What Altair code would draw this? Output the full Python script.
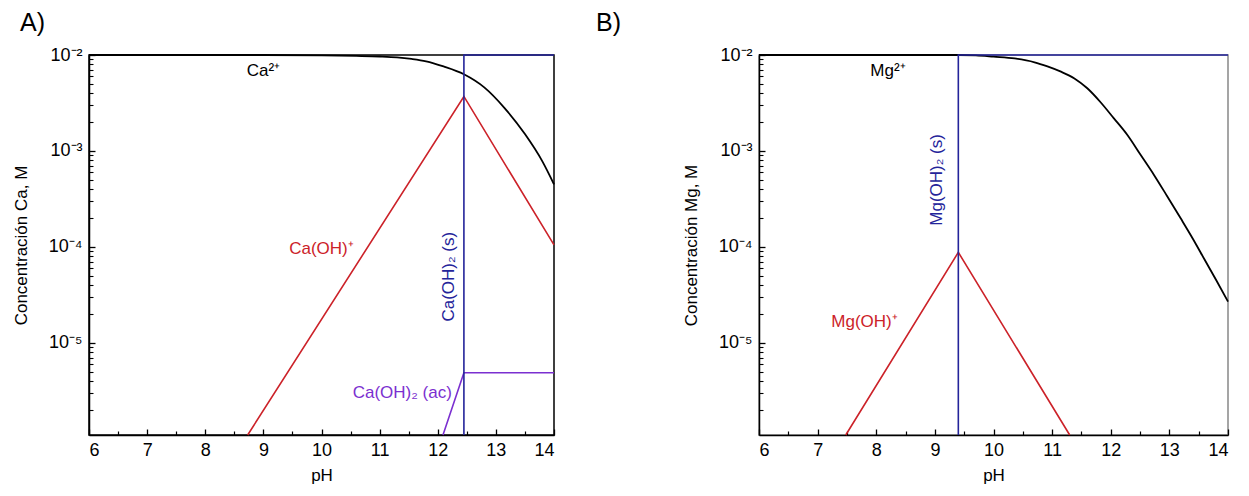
import altair as alt
import pandas as pd

FONT = "Liberation Sans"

# ---------------- Panel A (Ca) ----------------
ca_free_ph = [6, 9, 10, 10.6, 11.0, 11.3, 11.55, 11.8, 12.1, 12.45, 12.8, 13.15, 13.5, 13.8, 14]
ca_free_c = [0.01, 0.01, 0.0099, 0.00978, 0.00965, 0.00945, 0.0091, 0.0086, 0.0076, 0.0063,
             0.0046, 0.0028, 0.0015, 0.00078, 0.00045]
ca_oh_ph = [8.73, 12.45, 14]
ca_oh_c = [1.1e-6, 3.7e-3, 1.05e-4]
ca_aq_ph = [12.09, 12.45, 14]
ca_aq_c = [1.1e-6, 4.9e-6, 4.9e-6]
ca_s_ph = [12.45, 12.45, 14]
ca_s_c = [1.1e-6, 1e-2, 1e-2]

ca_lbl_text = ["Ca²⁺", "Ca(OH)⁺", "Ca(OH)₂ (ac)"]
ca_lbl_ph = [9.0, 10.0, 11.39]
ca_lbl_c = [6.8e-3, 9.5e-5, 3.0e-6]
ca_lbl_sp = ["free", "oh", "aq"]
ca_rot_text = ["Ca(OH)₂ (s)"]
ca_rot_ph = [12.2]
ca_rot_c = [4.9e-5]

# ---------------- Panel B (Mg) ----------------
mg_free_ph = [6, 9.4, 9.7, 10.0, 10.36, 10.7, 10.92, 11.15, 11.38, 11.6, 11.83, 12.05,
              12.29, 12.5, 12.74, 12.96, 13.19, 13.4, 13.6, 13.8, 14]
mg_free_c = [0.01, 0.01, 0.0099, 0.0096, 0.0092, 0.0084, 0.0076, 0.0067, 0.0057, 0.0045,
             0.0032, 0.0022, 0.00145, 0.00093, 0.00056, 0.00034, 0.0002, 0.000122,
             7.4e-5, 4.5e-5, 2.7e-5]
mg_oh_ph = [7.48, 9.4, 11.3]
mg_oh_c = [1.1e-6, 8.8e-5, 1.1e-6]
mg_s_ph = [9.4, 9.4, 14]
mg_s_c = [1.1e-6, 1e-2, 1e-2]

mg_lbl_text = ["Mg²⁺", "Mg(OH)⁺"]
mg_lbl_ph = [8.2, 7.8]
mg_lbl_c = [6.8e-3, 1.65e-5]
mg_lbl_sp = ["free", "oh"]
mg_rot_text = ["Mg(OH)₂ (s)"]
mg_rot_ph = [9.03]
mg_rot_c = [5.0e-4]

species = ["free", "oh", "aq", "s"]
colors = ["#000000", "#cc2229", "#7b2fd0", "#24249a"]

x_major = [6, 7, 8, 9, 10, 11, 12, 13, 14]
x_minor = [6.5, 7.5, 8.5, 9.5, 10.5, 11.5, 12.5, 13.5]
y_major = [1e-5, 1e-4, 1e-3, 1e-2]
y_minor = [m * 10.0 ** e for e in [-6, -5, -4, -3] for m in range(2, 10)
           if 1.1e-6 <= m * 10.0 ** e < 1e-2]


def lines_df(series):
    rows = []
    for sp, phs, cs in series:
        for i, (p, c) in enumerate(zip(phs, cs)):
            rows.append({"ph": p, "c": c, "sp": sp, "i": i})
    return pd.DataFrame(rows)


def panel(curve, series, lbl, rot, ytitle, title, title_dx, right_stroke, width):
    xs = alt.Scale(domain=[6, 14], nice=False, zero=False)
    ys = alt.Scale(type="log", domain=[1.1e-6, 1e-2], nice=False)
    cs = alt.Scale(domain=species, range=colors)

    ax_x_lab = alt.Axis(values=x_major, orient="bottom", ticks=False, grid=False,
                        domainColor="black", domainWidth=1.5, labelFontSize=18,
                        labelFont=FONT, labelColor="black", labelPadding=6, format="d",
                        title="pH", titleFont=FONT, titleFontSize=17,
                        titleFontWeight="normal", titleColor="black", titlePadding=8)
    ax_x_maj = alt.Axis(values=x_major, orient="bottom", labels=False, domain=False,
                        grid=False, tickSize=6, tickWidth=1.3, tickColor="black",
                        offset=-6, title=None)
    ax_x_min = alt.Axis(values=x_minor, orient="bottom", labels=False, domain=False,
                        grid=False, tickSize=4, tickWidth=1.2, tickColor="black",
                        offset=-4, title=None)
    lab_expr = ("datum.value >= 0.0099 ? '10⁻²' : datum.value >= 0.00099 ? '10⁻³' : "
                "datum.value >= 0.000099 ? '10⁻⁴' : '10⁻⁵'")
    ax_y_lab = alt.Axis(values=y_major, orient="left", ticks=False, grid=False,
                        domainColor="black", domainWidth=1.5, labelFontSize=18,
                        labelFont=FONT, labelColor="black", labelPadding=7,
                        labelExpr=lab_expr, title=ytitle, titleFont=FONT,
                        titleFontSize=17, titleFontWeight="normal", titleColor="black",
                        titlePadding=18)
    ax_y_maj = alt.Axis(values=y_major, orient="left", labels=False, domain=False,
                        grid=False, tickSize=6, tickWidth=1.3, tickColor="black",
                        offset=-6, title=None)
    ax_y_min = alt.Axis(values=y_minor, orient="left", labels=False, domain=False,
                        grid=False, tickSize=4, tickWidth=1.1, tickColor="black",
                        offset=-4, title=None)

    ldf = lines_df(series)
    lines = alt.Chart(ldf).mark_line(strokeWidth=1.6).encode(
        x=alt.X("ph:Q", scale=xs, axis=ax_x_lab),
        y=alt.Y("c:Q", scale=ys, axis=ax_y_lab),
        color=alt.Color("sp:N", scale=cs, legend=None),
        detail="sp:N",
        order="i:Q",
    )
    cdf = lines_df([curve])
    smooth = alt.Chart(cdf).mark_line(strokeWidth=1.8, interpolate="monotone").encode(
        x=alt.X("ph:Q", scale=xs, axis=None),
        y=alt.Y("c:Q", scale=ys, axis=None),
        color=alt.Color("sp:N", scale=cs, legend=None),
        order="i:Q",
    )
    tdf = pd.DataFrame({"ph": lbl[1], "c": lbl[2], "t": lbl[0], "sp": lbl[3]})
    texts = alt.Chart(tdf).mark_text(font=FONT, fontSize=17, align="center",
                                     baseline="middle").encode(
        x=alt.X("ph:Q", scale=xs, axis=ax_x_maj),
        y=alt.Y("c:Q", scale=ys, axis=ax_y_maj),
        text="t:N",
        color=alt.Color("sp:N", scale=cs, legend=None),
    )
    rdf = pd.DataFrame({"ph": rot[1], "c": rot[2], "t": rot[0], "sp": ["s"] * len(rot[0])})
    rtext = alt.Chart(rdf).mark_text(font=FONT, fontSize=17, align="center",
                                     baseline="middle", angle=270).encode(
        x=alt.X("ph:Q", scale=xs, axis=ax_x_min),
        y=alt.Y("c:Q", scale=ys, axis=ax_y_min),
        text="t:N",
        color=alt.Color("sp:N", scale=cs, legend=None),
    )
    return alt.layer(smooth, lines, texts, rtext).resolve_axis(
        x="independent", y="independent"
    ).properties(
        width=width, height=380,
        title=alt.TitleParams(title, anchor="start", frame="group", dx=title_dx,
                              fontSize=25, fontWeight="normal", font=FONT,
                              color="black", offset=10),
        view=alt.ViewBackground(stroke=right_stroke, strokeWidth=1.5),
    )


panel_a = panel(
    ("free", ca_free_ph, ca_free_c),
    [("oh", ca_oh_ph, ca_oh_c), ("aq", ca_aq_ph, ca_aq_c), ("s", ca_s_ph, ca_s_c)],
    (ca_lbl_text, ca_lbl_ph, ca_lbl_c, ca_lbl_sp),
    (ca_rot_text, ca_rot_ph, ca_rot_c),
    "Concentración Ca, M", "A)", -69, "black", 465,
)
panel_b = panel(
    ("free", mg_free_ph, mg_free_c),
    [("oh", mg_oh_ph, mg_oh_c), ("s", mg_s_ph, mg_s_c)],
    (mg_lbl_text, mg_lbl_ph, mg_lbl_c, mg_lbl_sp),
    (mg_rot_text, mg_rot_ph, mg_rot_c),
    "Concentración Mg, M", "B)", -163, "#888888", 469,
)

chart = alt.hconcat(panel_a, panel_b, spacing=36).properties(
    padding={"left": 3, "top": 2, "right": 4, "bottom": 2}
).configure_view(stroke="black")

chart.save("out.html", embed_options={"renderer": "svg", "actions": False})
